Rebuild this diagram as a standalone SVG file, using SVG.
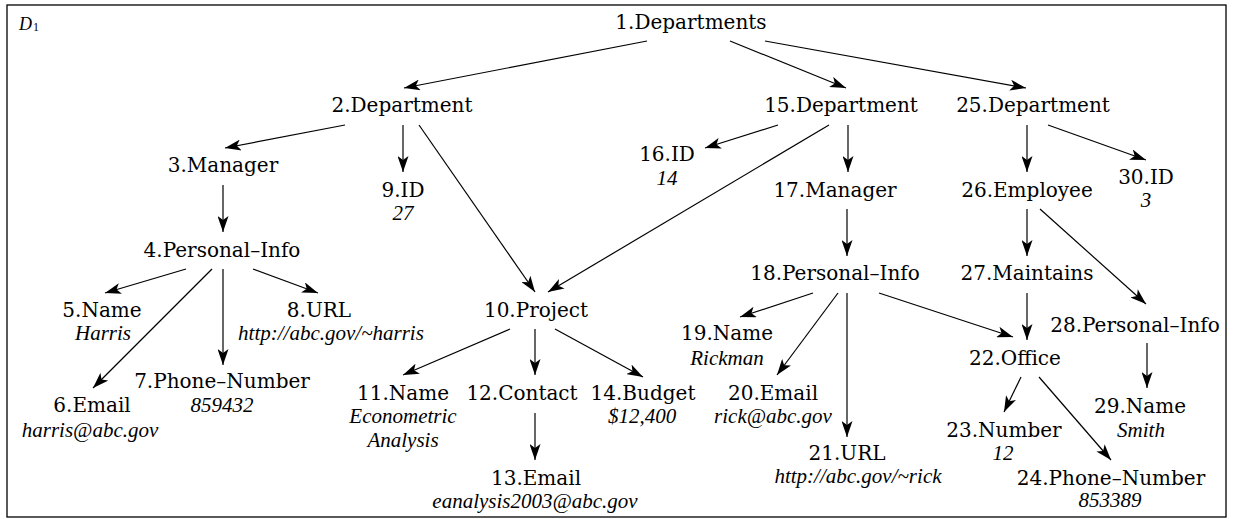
<svg xmlns="http://www.w3.org/2000/svg" width="1236" height="519" viewBox="0 0 1236 519">
  <defs>
    <marker id="arr" markerUnits="userSpaceOnUse" markerWidth="17" markerHeight="11" viewBox="0 0 17 11" refX="16" refY="5.5" orient="auto">
      <path d="M16,5.5 L0,0 L4,5.5 L0,11 Z" fill="#000"/>
    </marker>
  </defs>
  <style>
    .lbl { font-family: "DejaVu Serif", serif; font-size: 20px; fill: #000; text-anchor: middle; }
    .val { font-family: "Liberation Serif", serif; font-style: italic; font-size: 21px; fill: #000; text-anchor: middle; }
    .edge { stroke: #000; stroke-width: 1.2; fill: none; marker-end: url(#arr); }
  </style>
  <rect width="1236" height="519" fill="#fff"/>
  <rect x="7" y="5" width="1219" height="512" fill="none" stroke="#000" stroke-width="1.3"/>
  <text x="19" y="30" font-family="Liberation Serif, serif" font-style="italic" font-size="18">D<tspan font-style="normal" font-size="12" dx="1" dy="1">1</tspan></text>

  <g id="edges">
    <line class="edge" x1="647" y1="41" x2="404" y2="88"/>
    <line class="edge" x1="730" y1="41" x2="846" y2="88"/>
    <line class="edge" x1="765" y1="41" x2="1026" y2="88"/>
    <line class="edge" x1="345" y1="125" x2="225" y2="148"/>
    <line class="edge" x1="403" y1="125" x2="403" y2="172"/>
    <line class="edge" x1="419" y1="125" x2="535" y2="292"/>
    <line class="edge" x1="778" y1="125" x2="705" y2="148"/>
    <line class="edge" x1="829" y1="125" x2="548" y2="292"/>
    <line class="edge" x1="848" y1="125" x2="848" y2="172"/>
    <line class="edge" x1="1027" y1="125" x2="1027" y2="172"/>
    <line class="edge" x1="1048" y1="125" x2="1146" y2="160"/>
    <line class="edge" x1="223" y1="185" x2="223" y2="232"/>
    <line class="edge" x1="847" y1="209" x2="847" y2="256"/>
    <line class="edge" x1="1027" y1="209" x2="1027" y2="256"/>
    <line class="edge" x1="1040" y1="209" x2="1146" y2="304"/>
    <line class="edge" x1="186" y1="269" x2="105" y2="293"/>
    <line class="edge" x1="212" y1="269" x2="93" y2="388"/>
    <line class="edge" x1="223" y1="269" x2="223" y2="365"/>
    <line class="edge" x1="253" y1="269" x2="318" y2="293"/>
    <line class="edge" x1="510" y1="329" x2="403" y2="375"/>
    <line class="edge" x1="535" y1="329" x2="535" y2="375"/>
    <line class="edge" x1="555" y1="329" x2="643" y2="377"/>
    <line class="edge" x1="535" y1="413" x2="535" y2="460"/>
    <line class="edge" x1="813" y1="293" x2="740" y2="317"/>
    <line class="edge" x1="838" y1="293" x2="777" y2="375"/>
    <line class="edge" x1="847" y1="293" x2="847" y2="437"/>
    <line class="edge" x1="879" y1="293" x2="1013" y2="337"/>
    <line class="edge" x1="1027" y1="293" x2="1027" y2="340"/>
    <line class="edge" x1="1147" y1="343" x2="1147" y2="388"/>
    <line class="edge" x1="1021" y1="377" x2="1004" y2="412"/>
    <line class="edge" x1="1039" y1="377" x2="1111" y2="460"/>
  </g>

  <g id="n1"><text class="lbl" x="691" y="29">1.Departments</text></g>
  <g id="n2"><text class="lbl" x="402" y="112">2.Department</text></g>
  <g id="n3"><text class="lbl" x="223" y="172">3.Manager</text></g>
  <g id="n4"><text class="lbl" x="222" y="257">4.Personal–Info</text></g>
  <g id="n5"><text class="lbl" x="102" y="317">5.Name</text><text class="val" x="103" y="340">Harris</text></g>
  <g id="n6"><text class="lbl" x="92" y="412">6.Email</text><text class="val" x="90" y="437">harris@abc.gov</text></g>
  <g id="n7"><text class="lbl" x="222" y="388">7.Phone–Number</text><text class="val" x="222" y="412">859432</text></g>
  <g id="n8"><text class="lbl" x="319" y="317">8.URL</text><text class="val" x="331" y="340">http://abc.gov/~harris</text></g>
  <g id="n9"><text class="lbl" x="403" y="197">9.ID</text><text class="val" x="403" y="220">27</text></g>
  <g id="n10"><text class="lbl" x="536" y="317">10.Project</text></g>
  <g id="n11"><text class="lbl" x="403" y="400">11.Name</text><text class="val" x="403" y="423">Econometric</text><text class="val" x="403" y="447">Analysis</text></g>
  <g id="n12"><text class="lbl" x="522" y="400">12.Contact</text></g>
  <g id="n13"><text class="lbl" x="536" y="485">13.Email</text><text class="val" x="535" y="508">eanalysis2003@abc.gov</text></g>
  <g id="n14"><text class="lbl" x="643" y="400">14.Budget</text><text class="val" x="642" y="423">$12,400</text></g>
  <g id="n15"><text class="lbl" x="841" y="112">15.Department</text></g>
  <g id="n16"><text class="lbl" x="667" y="161">16.ID</text><text class="val" x="667" y="185">14</text></g>
  <g id="n17"><text class="lbl" x="835" y="197">17.Manager</text></g>
  <g id="n18"><text class="lbl" x="835" y="280">18.Personal–Info</text></g>
  <g id="n19"><text class="lbl" x="727" y="340">19.Name</text><text class="val" x="727" y="365">Rickman</text></g>
  <g id="n20"><text class="lbl" x="773" y="400">20.Email</text><text class="val" x="773" y="423">rick@abc.gov</text></g>
  <g id="n21"><text class="lbl" x="847" y="460">21.URL</text><text class="val" x="858" y="483">http://abc.gov/~rick</text></g>
  <g id="n22"><text class="lbl" x="1015" y="365">22.Office</text></g>
  <g id="n23"><text class="lbl" x="1004" y="437">23.Number</text><text class="val" x="1003" y="460">12</text></g>
  <g id="n24"><text class="lbl" x="1111" y="485">24.Phone–Number</text><text class="val" x="1110" y="507">853389</text></g>
  <g id="n25"><text class="lbl" x="1033" y="112">25.Department</text></g>
  <g id="n26"><text class="lbl" x="1027" y="197">26.Employee</text></g>
  <g id="n27"><text class="lbl" x="1027" y="280">27.Maintains</text></g>
  <g id="n28"><text class="lbl" x="1135" y="332">28.Personal–Info</text></g>
  <g id="n29"><text class="lbl" x="1140" y="413">29.Name</text><text class="val" x="1141" y="437">Smith</text></g>
  <g id="n30"><text class="lbl" x="1146" y="184">30.ID</text><text class="val" x="1146" y="207">3</text></g>
</svg>
